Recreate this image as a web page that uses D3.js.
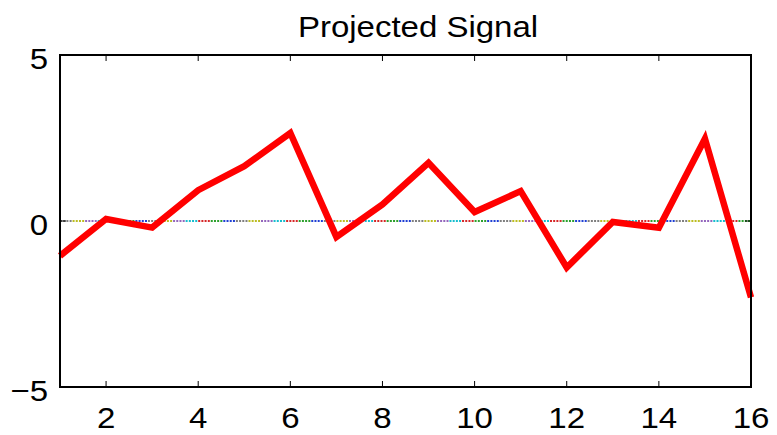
<!DOCTYPE html>
<html>
<head>
<meta charset="utf-8">
<script src="https://cdn.jsdelivr.net/npm/d3@7"></script>
<style>
  html, body { margin: 0; padding: 0; background: #fff; }
  svg { display: block; }
  text { font-family: "Liberation Sans", Arial, Helvetica, sans-serif; fill: #000; }
</style>
</head>
<body>
<svg id="chart" width="777" height="435"></svg>
<script>
// Sample index and projected signal value
const samples = [1, 2, 3, 4, 5, 6, 7, 8, 9, 10, 11, 12, 13, 14, 15, 16];
const signal = [-1.05, 0.06, -0.2, 0.93, 1.65, 2.65, -0.48, 0.5, 1.75, 0.27, 0.9, -1.4, -0.03, -0.2, 2.48, -2.3];

// Tick labels
const xTicks = [2, 4, 6, 8, 10, 12, 14, 16];
const yTicks = [-5, 0, 5];

// Colour cycle of the dotted zero baseline
const baselineColors = ["#7f7f7f", "#bcbd22", "#9467bd", "#17becf", "#d62728", "#2ca02c", "#1f3fd4"];
const baselineSegments = 55;

const title = "Projected Signal";

const svg = d3.select("#chart");
const plotL = 60, plotR = 751, plotT = 55, plotB = 387;
const stretch = 1.1;

const x = d3.scaleLinear().domain([1, 16]).range([plotL, plotR]);
const y = d3.scaleLinear().domain([-5, 5]).range([plotB, plotT]);

// Dotted baseline at zero, drawn as coloured pieces
const segW = (16 - 1) / baselineSegments;
const segs = d3.range(baselineSegments).map(i => ({
  x0: 1 + i * segW,
  x1: Math.min(16, 1 + (i + 1) * segW),
  c: baselineColors[i % baselineColors.length]
}));
svg.append("g").selectAll("line").data(segs).join("line")
  .attr("x1", d => x(d.x0)).attr("x2", d => x(d.x1))
  .attr("y1", y(0)).attr("y2", y(0))
  .attr("stroke", d => d.c)
  .attr("stroke-width", 2)
  .attr("stroke-dasharray", "2,1.2");

// Signal line
const line = d3.line().x((d, i) => x(samples[i])).y(d => y(d));
svg.append("path")
  .datum(signal)
  .attr("d", line)
  .attr("fill", "none")
  .attr("stroke", "#ff0000")
  .attr("stroke-width", 6.5)
  .attr("stroke-linejoin", "miter")
  .attr("stroke-linecap", "butt");

// Inward ticks on all four sides
const tickLen = 6;
const ticks = svg.append("g").attr("stroke", "#000").attr("stroke-width", 1);
xTicks.forEach(t => {
  ticks.append("line").attr("x1", x(t)).attr("x2", x(t)).attr("y1", plotB).attr("y2", plotB - tickLen);
  ticks.append("line").attr("x1", x(t)).attr("x2", x(t)).attr("y1", plotT).attr("y2", plotT + tickLen);
});
yTicks.forEach(t => {
  ticks.append("line").attr("x1", plotL).attr("x2", plotL + tickLen).attr("y1", y(t)).attr("y2", y(t));
  ticks.append("line").attr("x1", plotR).attr("x2", plotR - tickLen).attr("y1", y(t)).attr("y2", y(t));
});

// Axes box
svg.append("rect")
  .attr("x", plotL).attr("y", plotT)
  .attr("width", plotR - plotL).attr("height", plotB - plotT)
  .attr("fill", "none").attr("stroke", "#000").attr("stroke-width", 2);

// Text placed with a slight horizontal stretch
function label(g, tx, ty, anchor, str, size, sx, baseline) {
  const t = g.append("text")
    .attr("transform", `translate(${tx},${ty}) scale(${sx},1)`)
    .attr("text-anchor", anchor)
    .attr("font-size", size)
    .text(str);
  if (baseline) t.attr("dominant-baseline", baseline);
  return t;
}

const xl = svg.append("g");
xTicks.forEach(d => label(xl, x(d), 428, "middle", d, 29, 1.14));

const yl = svg.append("g");
yTicks.forEach(d => label(yl, 48, y(d) + 4, "end", d < 0 ? "\u2212" + Math.abs(d) : String(d), 30, stretch, "central"));

// Title
label(svg, 418, 37, "middle", title, 30, stretch);
</script>
</body>
</html>
